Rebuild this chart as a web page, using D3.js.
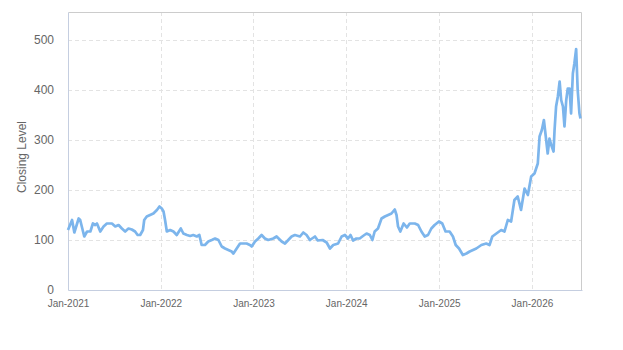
<!DOCTYPE html>
<html>
<head>
<meta charset="utf-8">
<script src="https://cdn.jsdelivr.net/npm/d3@7"></script>
<style>
  body { margin: 0; background: #fff; }
  text { font-family: "Liberation Sans", Arial, sans-serif; }
</style>
</head>
<body>
<div id="chart-area"></div>
<script>
// closing levels
var dates = ["2021-01-01","2021-01-17","2021-01-26","2021-02-12","2021-02-18","2021-03-06","2021-03-17","2021-03-30","2021-04-09","2021-04-18",
  "2021-04-25","2021-05-08","2021-05-21","2021-06-03","2021-06-23","2021-07-06","2021-07-19","2021-08-01","2021-08-14","2021-08-27",
  "2021-09-09","2021-09-22","2021-10-02","2021-10-12","2021-10-23","2021-10-28","2021-11-07","2021-11-20","2021-12-03","2021-12-17",
  "2021-12-27","2022-01-05","2022-01-12","2022-01-18","2022-01-25","2022-02-07","2022-02-20","2022-03-05","2022-03-21","2022-03-31",
  "2022-04-14","2022-04-27","2022-05-09","2022-05-23","2022-06-02","2022-06-11","2022-06-24","2022-07-07","2022-07-21","2022-08-03",
  "2022-08-16","2022-08-29","2022-09-11","2022-09-24","2022-10-07","2022-10-14","2022-10-27","2022-11-09","2022-11-22","2022-12-05",
  "2022-12-18","2022-12-25","2023-01-07","2023-01-20","2023-02-02","2023-02-15","2023-02-28","2023-03-20","2023-04-02","2023-04-22",
  "2023-05-05","2023-05-18","2023-05-31","2023-06-13","2023-07-03","2023-07-16","2023-07-29","2023-08-11","2023-08-31","2023-09-11",
  "2023-09-30","2023-10-16","2023-10-29","2023-11-11","2023-11-30","2023-12-14","2023-12-27","2024-01-08","2024-01-18","2024-01-28",
  "2024-02-10","2024-02-23","2024-03-07","2024-03-21","2024-04-03","2024-04-13","2024-04-22","2024-05-05","2024-05-19","2024-06-01",
  "2024-06-14","2024-06-27","2024-07-10","2024-07-17","2024-07-23","2024-08-01","2024-08-14","2024-08-27","2024-09-07","2024-09-27",
  "2024-10-10","2024-10-23","2024-11-05","2024-11-18","2024-12-01","2024-12-14","2024-12-31","2025-01-13","2025-01-26","2025-02-11",
  "2025-02-24","2025-03-07","2025-03-20","2025-04-04","2025-04-18","2025-05-01","2025-05-14","2025-05-27","2025-06-16","2025-07-05",
  "2025-07-18","2025-07-29","2025-08-14","2025-09-02","2025-09-15","2025-09-28","2025-10-11","2025-10-24","2025-11-06","2025-11-19",
  "2025-12-03","2025-12-16","2025-12-29","2026-01-11","2026-01-24","2026-01-31","2026-02-09","2026-02-17","2026-02-26","2026-03-04",
  "2026-03-11","2026-03-18","2026-03-27","2026-03-31","2026-04-06","2026-04-13","2026-04-20","2026-04-26","2026-05-03","2026-05-09",
  "2026-05-16","2026-05-22","2026-05-29","2026-06-04","2026-06-11","2026-06-17","2026-06-24","2026-06-30","2026-07-07","2026-07-11"];

var closes = [120,140,115,143,140,107,117,117,133,130,
  133,117,127,133,133,127,130,123,117,123,
  121,117,110,110,120,140,147,150,153,160,
  167,163,157,140,117,120,117,110,123,113,
  110,108,110,107,110,90,90,97,100,103,
  100,87,83,80,77,73,83,93,93,93,
  90,87,97,103,110,103,100,103,107,97,
  93,100,107,110,107,115,110,100,107,99,
  100,95,83,90,93,107,110,103,110,99,
  103,103,108,113,110,100,117,123,143,147,
  150,153,161,150,127,117,133,125,133,133,
  130,117,107,110,123,130,137,133,117,117,
  107,90,83,70,73,77,80,83,90,93,
  90,107,113,120,117,140,137,180,187,160,
  203,190,227,233,253,307,320,340,300,273,
  303,290,277,320,367,387,417,380,367,327,
  380,403,403,353,433,453,482,400,353,343];

var yTicks = [0, 100, 200, 300, 400, 500];
var xTicks = ["2021-01-01","2022-01-01","2023-01-01","2024-01-01","2025-01-01","2026-01-01"];

var margin = {top: 12, right: 41, bottom: 60, left: 68};
var width = 623 - margin.left - margin.right;
var height = 350 - margin.top - margin.bottom;

var parse = d3.timeParse("%Y-%m-%d");
var data = dates.map((d, i) => { return {date: parse(d), close: closes[i]}; });

var svg = d3.select("#chart-area")
    .append("svg")
        .attr("width", 623)
        .attr("height", 350);

var g = svg.append("g")
        .attr("transform", "translate(" + margin.left + ", " + margin.top + ")");

var x = d3.scaleTime()
    .domain([parse("2021-01-01"), parse("2026-07-17")])
    .range([0, width]);

var y = d3.scaleLinear()
    .domain([0, 556])
    .range([height, 0]);

// grid
g.selectAll(".hgrid")
    .data(yTicks.slice(1))
    .enter().append("line")
        .attr("x1", 0).attr("x2", width)
        .attr("y1", (d) => { return Math.round(y(d)) + 0.5; })
        .attr("y2", (d) => { return Math.round(y(d)) + 0.5; })
        .attr("stroke", "#e3e3e3")
        .attr("stroke-dasharray", "4,3");

g.selectAll(".vgrid")
    .data(xTicks.slice(1).map(parse))
    .enter().append("line")
        .attr("y1", 0).attr("y2", height)
        .attr("x1", (d) => { return Math.round(x(d)) + 0.5; })
        .attr("x2", (d) => { return Math.round(x(d)) + 0.5; })
        .attr("stroke", "#e3e3e3")
        .attr("stroke-dasharray", "4,3");

// frame top / right
g.append("path")
    .attr("d", "M0.5,0.5H" + (width - 0.5) + "V" + height)
    .attr("fill", "none")
    .attr("stroke", "#cccccc");

// axes
var leftAxis = d3.axisLeft(y).tickValues(yTicks).tickSize(0).tickPadding(14);
var yAxis = g.append("g").attr("class", "y axis").call(leftAxis);
yAxis.select(".domain").attr("stroke", "#c5cee0");
yAxis.selectAll("text").attr("font-size", "12px").attr("fill", "#666");

var bottomAxis = d3.axisBottom(x)
    .tickValues(xTicks.map(parse))
    .tickFormat(d3.timeFormat("%b-%Y"))
    .tickSize(0).tickPadding(10);
var xAxis = g.append("g")
    .attr("class", "x axis")
    .attr("transform", "translate(0, " + height + ")")
    .call(bottomAxis);
xAxis.select(".domain").attr("stroke", "#c5cee0");
xAxis.selectAll("text").attr("font-size", "10px").attr("fill", "#666");

g.append("text")
    .attr("x", -(height / 2) - 6)
    .attr("y", -42)
    .attr("font-size", "12px")
    .attr("text-anchor", "middle")
    .attr("transform", "rotate(-90)")
    .style("fill", "#666")
    .text("Closing Level");

// series
var line = d3.line()
    .x((d) => { return x(d.date); })
    .y((d) => { return y(d.close); });

g.append("path")
    .datum(data)
    .attr("fill", "none")
    .attr("stroke", "#7cb5ec")
    .attr("stroke-width", 2.7)
    .attr("stroke-linejoin", "round")
    .attr("d", line);
</script>
</body>
</html>
